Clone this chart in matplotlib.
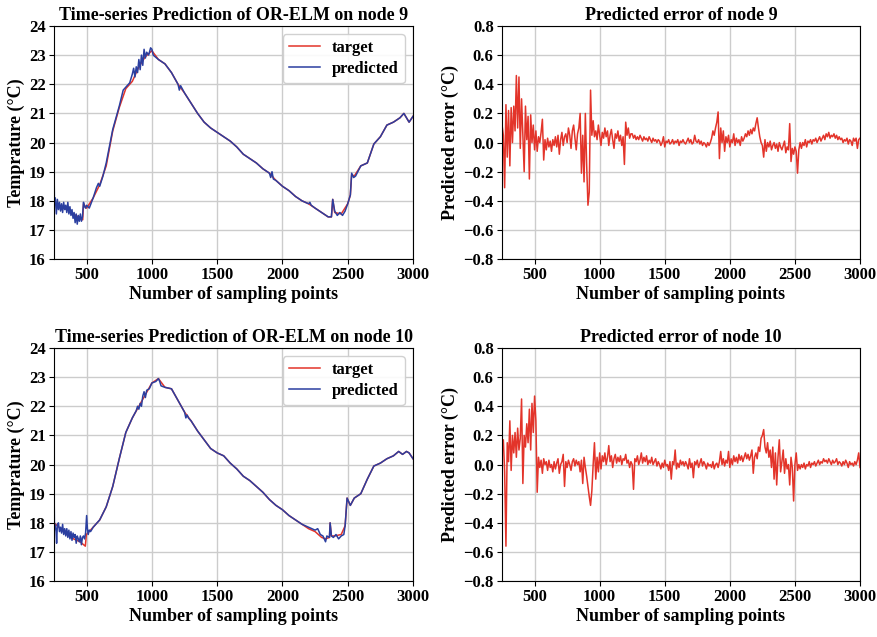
import matplotlib
matplotlib.use("Agg")
import matplotlib.pyplot as plt
import numpy as np

plt.rcParams['font.family'] = ['Liberation Serif', 'DejaVu Serif']
plt.rcParams['font.weight'] = 'bold'
plt.rcParams['axes.labelweight'] = 'bold'
plt.rcParams['axes.titleweight'] = 'bold'
plt.rcParams['mathtext.default'] = 'regular'

# ---- node 9 temperature ----
t9_x = [250, 300, 350, 400, 450, 470, 476, 500, 550, 600, 650, 700, 750, 800, 850, 900, 950, 1000,
        1050, 1100, 1150, 1200, 1250, 1300, 1350, 1400, 1450, 1500, 1550, 1600, 1650, 1700, 1750,
        1800, 1850, 1900, 1950, 2000, 2050, 2100, 2150, 2200, 2250, 2300, 2350,
        2375, 2385, 2400, 2450, 2500, 2520, 2530, 2550, 2600, 2650, 2700, 2750, 2800, 2850, 2900,
        2930, 2950, 2970, 3000]
t9_y = [17.9, 17.8, 17.7, 17.55, 17.4, 17.35, 17.9, 17.75, 18.1, 18.55, 19.2, 20.4, 21.2, 21.85, 22.1, 22.6, 22.95, 23.15,
        22.85, 22.7, 22.4, 22.0, 21.7, 21.35, 21.0, 20.7, 20.5, 20.35, 20.2, 20.05, 19.85, 19.6, 19.45,
        19.3, 19.1, 18.95, 18.7, 18.5, 18.35, 18.15, 18.0, 17.9, 17.75, 17.6, 17.45,
        17.45, 18.05, 17.6, 17.55, 17.9, 18.2, 18.9, 18.85, 19.2, 19.3, 19.95, 20.2, 20.6, 20.7, 20.85,
        21.0, 20.85, 20.7, 20.9]

p9_x = [250, 253, 260, 268, 276, 284, 292, 300, 308, 316, 324, 332, 340, 348, 356, 364, 372, 380,
        388, 396, 404, 412, 420, 428, 436, 444, 452, 460, 468, 476, 484, 492, 500, 520, 550, 575,
        590, 600, 625, 650, 700, 750, 780, 800, 830, 850, 860, 870, 880, 890, 900, 910, 920, 930,
        940, 950, 960, 975, 990, 1000, 1010, 1050, 1100, 1150, 1200, 1210, 1220, 1250,
        1300, 1350, 1400, 1450, 1500, 1550, 1600, 1650, 1700, 1750, 1800, 1850,
        1900, 1910, 1920, 1930, 1950, 2000, 2050, 2100, 2150, 2200, 2210, 2220, 2250, 2300, 2350,
        2375, 2385, 2400, 2420, 2440, 2460, 2480, 2500, 2520, 2530, 2545, 2560, 2600, 2650, 2700,
        2750, 2800, 2850, 2900, 2930, 2950, 2970, 3000]
p9_y = [19.6, 17.9, 18.1, 17.55, 18.05, 17.7, 17.95, 17.65, 17.9, 17.6, 17.95, 17.7, 17.85, 17.6, 17.95, 17.55, 17.8, 17.5,
        17.7, 17.4, 17.6, 17.25, 17.55, 17.2, 17.5, 17.3, 17.55, 17.3, 17.45, 17.95, 17.8, 17.75, 17.85, 17.75, 18.1, 18.45,
        18.6, 18.5, 18.85, 19.3, 20.45, 21.25, 21.8, 21.9, 22.05, 22.35, 22.55, 22.25, 22.6, 22.4, 22.85, 22.5, 23.0, 22.65,
        23.2, 22.9, 23.1, 23.0, 23.25, 23.2, 23.0, 22.85, 22.7, 22.4, 22.0, 21.8, 21.95, 21.7,
        21.35, 21.0, 20.7, 20.5, 20.35, 20.2, 20.05, 19.85, 19.6, 19.45, 19.3, 19.1,
        18.95, 18.8, 19.0, 18.75, 18.7, 18.5, 18.35, 18.15, 18.0, 17.9, 17.95, 17.85, 17.75, 17.6, 17.45,
        17.45, 18.05, 17.65, 17.5, 17.6, 17.5, 17.65, 17.9, 18.2, 18.95, 18.8, 18.85, 19.2, 19.3, 19.95,
        20.2, 20.6, 20.7, 20.85, 21.0, 20.85, 20.7, 20.9]

# ---- node 10 temperature ----
t10_x = [250, 300, 350, 400, 450, 490, 498, 550, 600, 650, 700, 750, 800, 850, 900, 950, 1000,
         1050, 1100, 1150, 1200, 1250, 1300, 1350, 1400, 1450, 1500, 1550, 1600, 1650, 1700, 1750,
         1800, 1850, 1900, 1950, 2000, 2050, 2100, 2150, 2200, 2250, 2300,
         2330, 2360, 2365, 2375, 2400, 2450, 2480, 2495, 2520, 2550, 2600, 2650, 2700, 2750, 2800,
         2850, 2890, 2920, 2950, 2970, 3000]
t10_y = [18.0, 17.8, 17.6, 17.45, 17.35, 17.2, 17.6, 17.85, 18.1, 18.55, 19.25, 20.2, 21.1, 21.6, 22.0, 22.4, 22.8,
         22.95, 22.65, 22.6, 22.2, 21.8, 21.5, 21.15, 20.85, 20.55, 20.4, 20.3, 20.05, 19.85, 19.6, 19.45,
         19.25, 19.05, 18.8, 18.6, 18.45, 18.25, 18.1, 17.95, 17.8, 17.7, 17.5,
         17.45, 17.5, 18.0, 17.55, 17.55, 17.6, 17.9, 18.85, 18.6, 18.85, 19.0, 19.5, 19.95, 20.05, 20.2,
         20.3, 20.45, 20.35, 20.45, 20.4, 20.2]

p10_x = [250, 253, 260, 266, 270, 276, 284, 292, 300, 308, 316, 324, 332, 340, 348, 356, 364, 372,
         380, 388, 396, 404, 412, 420, 428, 436, 444, 452, 460, 468, 476, 484, 492, 500, 506, 512,
         520, 530, 550, 600, 650, 700, 750, 800, 850, 880, 890, 900, 910, 920, 930, 940, 950, 960,
         980, 1000, 1030, 1050, 1060, 1070, 1100, 1150, 1200, 1250, 1260, 1270, 1280, 1300,
         1350, 1400, 1450, 1500, 1550, 1600, 1650, 1700, 1750, 1800, 1850, 1900, 1950, 2000,
         2050, 2100, 2150, 2200, 2250, 2270, 2290, 2310, 2330, 2340, 2360, 2365, 2375, 2390, 2410,
         2430, 2450, 2470, 2480, 2495, 2520, 2550, 2600, 2650, 2700, 2750, 2800, 2850, 2890, 2920,
         2950, 2970, 3000]
p10_y = [19.5, 18.0, 17.9, 17.7, 17.3, 17.95, 18.0, 17.7, 17.85, 17.65, 17.95, 17.6, 17.8, 17.55, 17.8, 17.5, 17.75, 17.45,
         17.7, 17.4, 17.65, 17.5, 17.6, 17.3, 17.55, 17.45, 17.35, 17.55, 17.25, 17.5, 17.55, 17.45, 17.65, 18.25, 17.8, 17.6,
         17.75, 17.7, 17.85, 18.1, 18.55, 19.25, 20.2, 21.1, 21.6, 21.85, 22.0, 21.9, 22.1, 22.0, 22.35, 22.5, 22.3, 22.55,
         22.6, 22.8, 22.85, 22.95, 22.85, 22.7, 22.65, 22.6, 22.2, 21.8, 21.6, 21.7, 21.6, 21.5,
         21.15, 20.85, 20.55, 20.4, 20.3, 20.05, 19.85, 19.6, 19.45, 19.25, 19.05, 18.8, 18.6, 18.45,
         18.25, 18.1, 17.95, 17.85, 17.75, 17.8, 17.6, 17.55, 17.35, 17.55, 17.5, 18.0, 17.55, 17.5, 17.6,
         17.45, 17.55, 17.6, 17.9, 18.85, 18.6, 18.85, 19.0, 19.5, 19.95, 20.05, 20.2, 20.3, 20.45, 20.35,
         20.45, 20.4, 20.2]

# ---- prediction errors, one value every 10 samples from 250 to 3000 ----
err_x = np.arange(250, 3001, 10)
err9 = [0.12, 0.05, -0.31, 0.26, -0.10, 0.22, -0.16, 0.24, 0.00, 0.25,
        0.08, 0.46, 0.10, 0.45, -0.04, 0.30, 0.05, -0.20, 0.25, 0.02,
        0.18, -0.25, 0.19, 0.00, 0.12, -0.05, 0.08, -0.06, 0.04, 0.00,
        0.07, 0.16, -0.12, 0.02, -0.05, 0.03, -0.03, 0.01, -0.06, 0.02,
        -0.02, 0.04, -0.03, 0.05, -0.08, 0.02, 0.07, -0.02, 0.04, 0.06,
        0.00, 0.10, 0.05, -0.04, 0.08, 0.12, 0.03, -0.05, 0.06, 0.10,
        0.20, -0.21, 0.05, -0.27, 0.20, -0.15, -0.43, -0.34, 0.36, 0.05,
        0.15, 0.04, 0.08, 0.02, 0.12, 0.05, -0.02, 0.07, 0.03, 0.10,
        0.04, 0.08, -0.02, 0.05, 0.09, 0.02, -0.04, 0.06, 0.03, 0.08,
        0.01, 0.05, -0.02, 0.04, -0.15, 0.14, 0.05, 0.10, 0.03, 0.06,
        0.06, 0.03, 0.05, 0.02, 0.04, 0.02, 0.05, 0.03, 0.01, 0.04,
        0.02, 0.03, 0.01, 0.04, 0.02, 0.00, 0.03, 0.01, 0.02, 0.00,
        0.02, 0.01, -0.02, 0.00, 0.04, -0.03, 0.01, 0.00, 0.02, -0.01,
        0.00, 0.02, -0.01, 0.01, 0.00, 0.02, -0.02, 0.01, 0.00, 0.02,
        0.00, -0.01, 0.01, 0.03, 0.00, 0.02, -0.01, 0.00, 0.05, 0.01,
        0.00, 0.02, -0.01, 0.01, -0.02, 0.00, -0.01, -0.03, 0.00, -0.02,
        0.00, 0.03, 0.08, 0.05, 0.10, 0.14, 0.21, -0.11, 0.10, 0.00,
        0.08, -0.06, 0.04, 0.00, 0.05, -0.03, 0.02, 0.00, 0.06, -0.02,
        0.03, 0.00, 0.02, -0.02, 0.04, 0.01, 0.03, 0.06, 0.04, 0.08,
        0.05, 0.09, 0.06, 0.10, 0.08, 0.13, 0.17, 0.10, 0.04, 0.00,
        -0.02, -0.10, 0.02, -0.06, 0.00, -0.03, 0.01, -0.05, -0.02, 0.00,
        -0.04, -0.01, -0.06, 0.00, -0.03, -0.05, -0.02, 0.01, -0.07, -0.03,
        -0.05, 0.13, -0.13, -0.04, -0.08, -0.03, -0.06, -0.21, -0.05, 0.00,
        -0.04, 0.00, -0.02, 0.02, -0.03, 0.01, 0.00, 0.02, -0.01, 0.02,
        0.01, 0.03, 0.00, 0.02, 0.04, 0.01, 0.03, 0.05, 0.02, 0.06,
        0.04, 0.07, 0.03, 0.05, 0.04, 0.06, 0.03, 0.05, 0.02, 0.04,
        0.02, 0.03, 0.00, 0.02, 0.01, 0.03, -0.01, 0.02, 0.01, -0.02,
        0.03, 0.01, 0.03, -0.04, 0.02, 0.03]
err10 = [0.10, 0.17, -0.05, -0.56, 0.15, 0.02, 0.30, -0.04, 0.20, 0.08,
         0.22, 0.05, 0.25, 0.10, 0.18, 0.45, -0.13, 0.20, 0.12, 0.28,
         0.15, 0.38, 0.10, 0.42, 0.22, 0.47, 0.30, -0.19, 0.05, -0.02,
         0.03, -0.06, 0.04, 0.00, 0.02, -0.04, 0.03, -0.02, 0.00, -0.05,
         0.02, -0.03, 0.01, 0.04, -0.06, 0.00, 0.02, 0.07, -0.15, 0.02,
         -0.02, 0.03, 0.00, -0.04, 0.02, 0.04, -0.01, 0.03, 0.00, 0.02,
         -0.05, 0.03, -0.13, 0.05, -0.02, -0.08, -0.15, -0.22, -0.28, -0.18,
         0.00, 0.15, -0.10, 0.05, -0.05, 0.08, -0.03, 0.06, 0.02, 0.08,
         0.00, 0.05, 0.13, 0.02, 0.06, -0.02, 0.04, 0.07, 0.01, 0.05,
         0.02, 0.06, 0.00, 0.04, 0.03, 0.07, 0.01, 0.03, -0.02, 0.02,
         0.00, -0.17, 0.04, 0.02, 0.06, 0.00, 0.03, 0.08, 0.01, 0.05,
         0.02, 0.06, 0.00, 0.03, 0.01, 0.05, 0.00, 0.02, 0.04, -0.01,
         0.02, 0.00, -0.03, 0.01, -0.02, 0.03, -0.01, 0.00, -0.04, 0.02,
         -0.10, 0.02, 0.00, 0.10, -0.03, 0.01, -0.02, 0.03, 0.00, 0.02,
         -0.01, 0.02, 0.00, -0.03, 0.04, -0.02, 0.01, -0.09, 0.02, 0.00,
         0.03, -0.02, 0.01, 0.04, -0.01, 0.02, 0.00, -0.03, 0.01, -0.01,
         0.00, -0.02, 0.02, -0.03, 0.00, 0.01, -0.02, 0.02, 0.09, 0.00,
         0.04, -0.01, 0.03, 0.01, 0.09, -0.02, 0.04, 0.00, 0.06, 0.02,
         0.05, 0.01, 0.07, 0.03, 0.06, 0.02, 0.05, 0.08, 0.04, 0.07,
         0.03, 0.06, 0.10, -0.06, 0.05, 0.08, 0.04, 0.12, 0.09, 0.18,
         0.20, 0.24, 0.12, 0.08, 0.15, 0.05, 0.10, -0.02, 0.12, -0.10,
         0.08, -0.14, 0.05, 0.17, -0.05, 0.02, 0.10, -0.06, 0.04, -0.03,
         0.00, -0.14, 0.05, -0.02, -0.25, 0.00, 0.08, -0.04, 0.00, -0.03,
         0.00, -0.02, 0.01, -0.03, 0.00, -0.01, 0.02, -0.02, 0.01, 0.00,
         0.02, -0.01, 0.01, 0.03, 0.00, 0.02, 0.01, 0.04, 0.02, 0.03,
         0.01, 0.04, 0.02, 0.00, 0.03, 0.01, 0.02, 0.04, 0.00, 0.02,
         0.01, -0.01, 0.02, 0.00, 0.03, 0.01, -0.02, 0.02, 0.00, 0.01,
         -0.01, 0.02, 0.00, 0.03, 0.08, -0.02]

red = '#e3342a'
blue = '#2b3fa0'
grid_c = '#cccccc'

fig = plt.figure(figsize=(8.78, 6.37), dpi=100)

def style(ax):
    ax.grid(True, color=grid_c, linewidth=1.0)
    ax.set_axisbelow(True)
    ax.set_xlim(250, 3000)
    ax.set_xticks([500, 1000, 1500, 2000, 2500, 3000])
    ax.tick_params(labelsize=12, length=3.5, width=0.8, pad=2.5)
    ax.set_xlabel('Number of sampling points', fontsize=13, labelpad=2)

panels = [
    ("Time-series Prediction of OR-ELM on node 9", "Predicted error of node 9",
     t9_x, t9_y, p9_x, p9_y, err9, 0.9592),
    ("Time-series Prediction of OR-ELM on node 10", "Predicted error of node 10",
     t10_x, t10_y, p10_x, p10_y, err10, 0.4537),
]

for title, etitle, tx, ty, px, py, err, top in panels:
    h = 0.366
    ax = fig.add_axes([0.0615, top - h, 0.4089, h])
    ax.plot(tx, ty, color=red, linewidth=1.1, label='target')
    ax.plot(px, py, color=blue, linewidth=1.1, label='predicted')
    style(ax)
    ax.set_ylim(16, 24)
    ax.set_yticks(np.arange(16, 25, 1))
    ax.set_ylabel('Temprature (°C)', fontsize=13, labelpad=3)
    ax.set_title(title, fontsize=13, pad=4)
    ax.legend(loc='upper right', fontsize=12, handlelength=1.9,
              handletextpad=0.7, borderpad=0.35, labelspacing=0.3, framealpha=0.9)

    ax2 = fig.add_axes([0.5718, top - h, 0.4077, h])
    ax2.plot(err_x, err, color=red, linewidth=1.1)
    style(ax2)
    ax2.set_ylim(-0.8, 0.8)
    ax2.set_yticks(np.arange(-0.8, 0.81, 0.2))
    ax2.set_ylabel('Predicted error (°C)', fontsize=13, labelpad=3)
    ax2.set_title(etitle, fontsize=13, pad=4)

fig.savefig('out.png', dpi=100)
